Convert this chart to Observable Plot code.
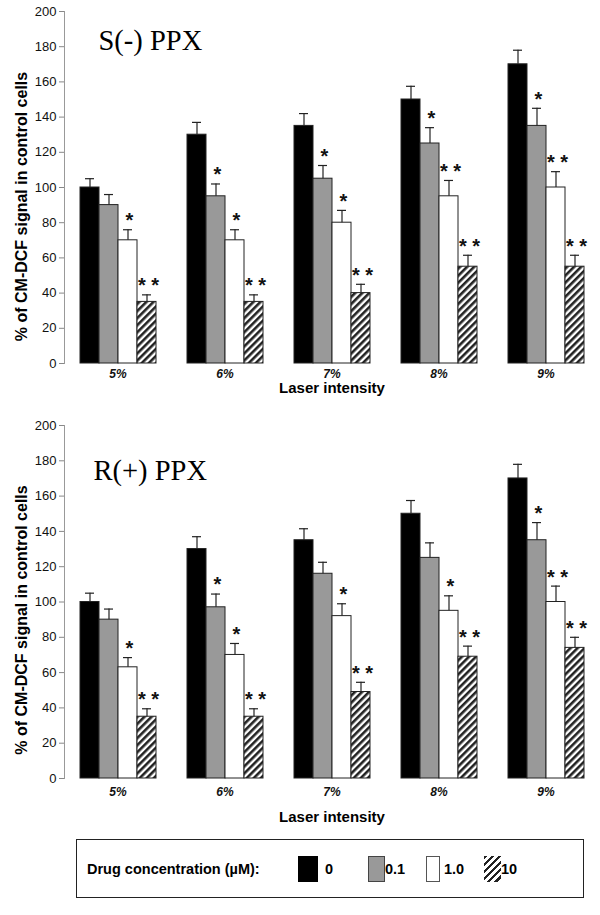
<!DOCTYPE html>
<html><head><meta charset="utf-8">
<script src="https://cdn.jsdelivr.net/npm/d3@7"></script>
<script src="https://cdn.jsdelivr.net/npm/@observablehq/plot@0.6"></script>
<style>
body{margin:0;background:#fff;font-family:"Liberation Sans",Arial,sans-serif;color:#000;}
#wrap{position:relative;width:600px;height:915px;}
#wrap svg{display:block;}
#legend{position:absolute;left:76px;top:839px;width:506px;height:57px;border:1px solid #222;box-sizing:content-box;}
#legend .lt{position:absolute;left:10px;top:22px;font-weight:bold;font-size:14.5px;line-height:1;white-space:nowrap;}
#legend .sw{position:absolute;top:16px;height:26px;box-sizing:border-box;}
#legend .lb{position:absolute;top:22px;font-weight:bold;font-size:14.5px;line-height:1;}
</style></head><body>
<div id="wrap"></div>
<script>
const intensities = ["5%", "6%", "7%", "8%", "9%"];
const concentrations = ["0", "0.1", "1.0", "10"];
const yTicks = [0, 20, 40, 60, 80, 100, 120, 140, 160, 180, 200];
const yLabel = "% of CM-DCF signal in control cells";
const xLabel = "Laser intensity";
const legendTitle = "Drug concentration (\u00b5M):";

// S(-) PPX: mean per intensity (rows) and concentration (cols)
const sMeans = [[100, 90, 70, 35], [130, 95, 70, 35], [135, 105, 80, 40], [150, 125, 95, 55], [170, 135, 100, 55]];
const sErrors = [[5, 6, 6, 4], [7, 7, 6, 4], [7, 7.5, 7, 5], [7.5, 9, 9, 6.5], [8, 10, 9, 6.5]];
const sStars = [["", "", "*", "* *"], ["", "*", "*", "* *"], ["", "*", "*", "* *"], ["", "*", "* *", "* *"], ["", "*", "* *", "* *"]];

// R(+) PPX
const rMeans = [[100, 90, 63, 35], [130, 97, 70, 35], [135, 116, 92, 49], [150, 125, 95, 69], [170, 135, 100, 74]];
const rErrors = [[5, 6, 5.5, 4.5], [7, 7.5, 6.5, 4.5], [6.5, 6.5, 7, 5.5], [7.5, 8.5, 8.5, 6], [8, 10, 9, 6]];
const rStars = [["", "", "*", "* *"], ["", "*", "*", "* *"], ["", "", "*", "* *"], ["", "", "*", "* *"], ["", "*", "* *", "* *"]];

const fills = ["#000", "#999", "#fff", "url(#hatch)"];

function rows(means, errs, stars) {
  const out = [];
  intensities.forEach((g, i) => concentrations.forEach((c, j) =>
    out.push({g, c, v: means[i][j], e: errs[i][j], s: stars[i][j]})));
  return out;
}

function chart(data, cfg) {
  const svg = Plot.plot({
    width: 600, height: 420,
    marginLeft: 63, marginRight: 0, marginTop: cfg.mt, marginBottom: cfg.mb,
    style: {fontFamily: "'Liberation Sans', Arial, sans-serif", color: "#000", background: "#fff", overflow: "visible"},
    fx: {domain: intensities, padding: 0, label: null},
    x: {domain: concentrations, paddingInner: 0, paddingOuter: 0.75, axis: null},
    y: {domain: [0, 200]},
    color: {type: "ordinal", domain: concentrations, range: fills},
    marks: [
      Plot.frame({anchor: "left", facetAnchor: "left", stroke: "#999"}),
      Plot.axisY({ticks: yTicks, tickSize: 5, tickPadding: 3, stroke: "#888", fill: "#111", fontSize: 13, label: null}),
      Plot.axisFx({anchor: "bottom", tickSize: 0, tickPadding: cfg.fxPad, label: null, fontSize: 12, fontWeight: "bold", fontStyle: "italic", fill: "#111"}),
      Plot.barY(data, {fx: "g", x: "c", y: "v", fill: "c", stroke: "#222", strokeWidth: 1}),
      Plot.ruleX(data, {fx: "g", x: "c", y1: "v", y2: d => d.v + d.e, stroke: "#222", strokeWidth: 1.2}),
      Plot.tickY(data, {fx: "g", x: "c", y: d => d.v + d.e, stroke: "#222", strokeWidth: 1.2, insetLeft: 5, insetRight: 5}),
      Plot.text(data.filter(d => d.s), {fx: "g", x: "c", y: d => d.v + d.e, text: "s", dy: -9, dx: 1.5, fontSize: 20, fontWeight: "bold", fill: "#111"}),
      Plot.text([cfg.title], {facet: "super", frameAnchor: "top-left", lineAnchor: "top", textAnchor: "start", dx: cfg.tdx, dy: cfg.tdy, fontFamily: "'Liberation Serif', 'Times New Roman', serif", fontSize: 28.5, fill: "#000"}),
      Plot.text([yLabel], {facet: "super", frameAnchor: "left", textAnchor: "middle", lineAnchor: "middle", rotate: -90, dx: -43, dy: cfg.ydy, fontSize: 16, fontWeight: "bold", fill: "#000"}),
      Plot.text([xLabel], {facet: "super", frameAnchor: "bottom", textAnchor: "middle", lineAnchor: "middle", dy: cfg.xdy, fontSize: 15, fontWeight: "bold", fill: "#000"})
    ]
  });
  const defs = d3.select(svg).insert("defs", ":first-child");
  const pat = defs.append("pattern").attr("id", "hatch").attr("patternUnits", "userSpaceOnUse")
    .attr("width", 5).attr("height", 5).attr("patternTransform", "rotate(45)");
  pat.append("rect").attr("width", 5).attr("height", 5).attr("fill", "#fff");
  pat.append("rect").attr("width", 2.6).attr("height", 5).attr("fill", "#222");
  return svg;
}

const wrap = document.getElementById("wrap");
wrap.appendChild(chart(rows(sMeans, sErrors, sStars), {mt: 11, mb: 57, fxPad: 6, tdx: 34, tdy: 18, ydy: 19, xdy: 25, title: "S(-) PPX"}));
wrap.appendChild(chart(rows(rMeans, rErrors, rStars), {mt: 5, mb: 62, fxPad: 9, tdx: 29, tdy: 34, ydy: 18, xdy: 39, title: "R(+) PPX"}));

// legend
const legend = document.createElement("div");
legend.id = "legend";
const lt = document.createElement("div");
lt.className = "lt"; lt.textContent = legendTitle;
legend.appendChild(lt);
const swX = [221, 291, 349, 407];
const swW = [20, 17, 14, 17];
const lbX = [248, 308, 367, 424];
const swStyles = [
  "background:#000;border:1px solid #000;",
  "background:#999;border:1px solid #444;",
  "background:#fff;border:1px solid #555;",
  "background:repeating-linear-gradient(135deg,#222 0 2.6px,#fff 2.6px 5px);border:none;"
];
concentrations.forEach((c, i) => {
  const sw = document.createElement("div");
  sw.className = "sw";
  sw.style.cssText = `left:${swX[i]}px;width:${swW[i]}px;` + swStyles[i];
  legend.appendChild(sw);
  const lb = document.createElement("div");
  lb.className = "lb"; lb.style.left = lbX[i] + "px"; lb.textContent = c;
  legend.appendChild(lb);
});
wrap.appendChild(legend);
</script>
</body></html>
